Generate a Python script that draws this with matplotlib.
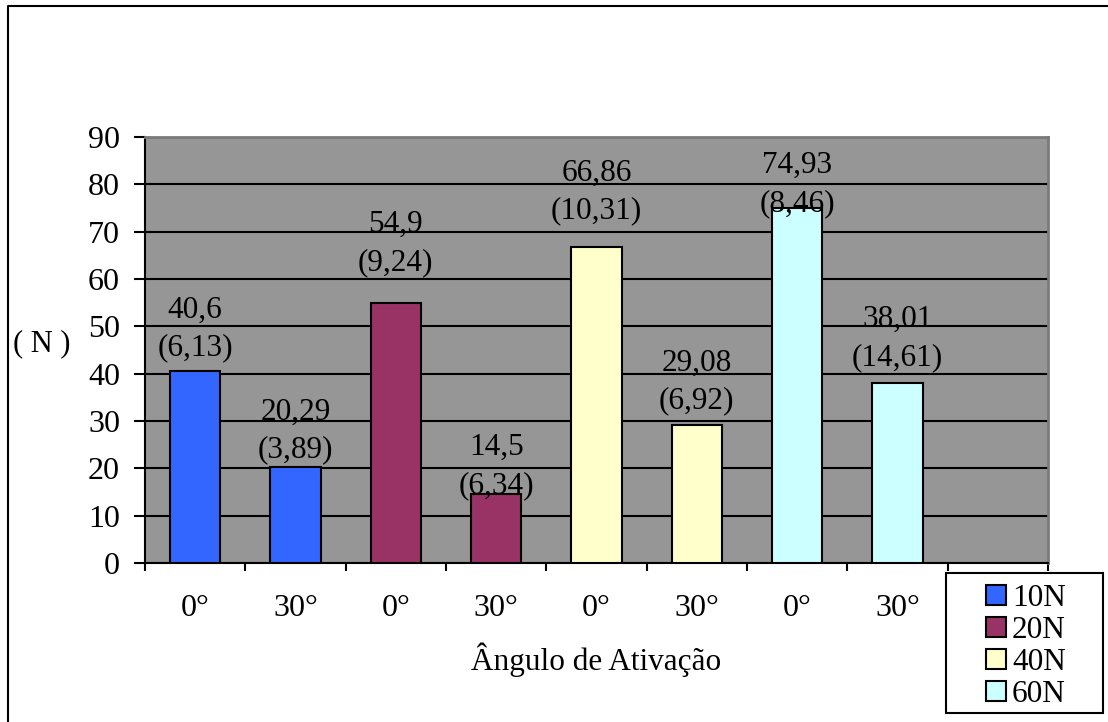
import matplotlib
matplotlib.use("Agg")
import matplotlib.pyplot as plt
from matplotlib.lines import Line2D
from matplotlib.patches import Rectangle

# Force (N) per activation angle and load level
categories = ["0°", "30°", "0°", "30°", "0°", "30°", "0°", "30°"]
series_names = ["10N", "20N", "40N", "60N"]
series_colors = ["#3366FF", "#993366", "#FFFFCC", "#CCFFFF"]
means = [40.6, 20.29, 54.9, 14.5, 66.86, 29.08, 74.93, 38.01]
std_devs = [6.13, 3.89, 9.24, 6.34, 10.31, 6.92, 8.46, 14.61]
y_ticks = [0, 10, 20, 30, 40, 50, 60, 70, 80, 90]

# vertical lift of each value label above its bar (points)
label_lift_pt = [6, 2, 19, -4, 15, 7, -7, 8]

plt.rcParams["font.family"] = ["Liberation Serif", "DejaVu Serif"]

W, H = 1108, 722
fig = plt.figure(figsize=(W / 100, H / 100), dpi=100)
fig.patch.set_facecolor("white")


def fx(px):
    return px / W


def fy(py):
    return 1 - py / H


# outer chart frame
fig.add_artist(Line2D([fx(8), fx(8), 1.0], [0.0, fy(6), fy(6)],
                      transform=fig.transFigure, color="black", lw=1.5))

ax = fig.add_axes([fx(145), fy(563), (1048 - 145) / W, (563 - 137) / H])
ax.set_facecolor("#969696")

x = list(range(len(categories)))
for i, (name, color) in enumerate(zip(series_names, series_colors)):
    xs = x[2 * i:2 * i + 2]
    ys = means[2 * i:2 * i + 2]
    ax.bar(xs, ys, width=0.5, color=color, edgecolor="black", linewidth=1.5,
           zorder=3, label=name)

for xi, m, sd, lift in zip(x, means, std_devs, label_lift_pt):
    txt = f"{m:g}".replace(".", ",") + "\n(" + f"{sd:g}".replace(".", ",") + ")"
    ax.annotate(txt, (xi, m), xytext=(0, lift), textcoords="offset points",
                ha="center", va="bottom", fontsize=22.5, linespacing=1.4,
                zorder=4, annotation_clip=False)

ax.set_xlim(-0.5, 8.5)
ax.set_ylim(0, 90)
ax.set_yticks(y_ticks)
ax.yaxis.grid(True, color="black", lw=1.5, zorder=1)
ax.set_axisbelow(True)

# boundary ticks between categories, labels centred on the bars
ax.set_xticks([v - 0.5 for v in range(10)])
ax.set_xticklabels([])
ax.set_xticks(x, minor=True)
ax.set_xticklabels(categories, minor=True, fontsize=23)
ax.tick_params(axis="x", which="major", direction="out", length=6, width=1.5)
ax.tick_params(axis="x", which="minor", length=0, pad=22)
ax.tick_params(axis="y", direction="out", length=8, width=1.5, pad=10,
               labelsize=23)

for side in ["left", "bottom"]:
    ax.spines[side].set_color("black")
    ax.spines[side].set_linewidth(1.5)
for side in ["top", "right"]:
    ax.spines[side].set_color("#7a7a7a")
    ax.spines[side].set_linewidth(2)

fig.text(fx(42), fy(344), "( N )", ha="center", va="center", fontsize=22)
fig.text(fx(596), fy(670), "Ângulo de Ativação", ha="center",
         va="baseline", fontsize=22.5)

# legend box with colour swatches
fig.add_artist(Rectangle((fx(946), fy(713)), (1103 - 946) / W, (713 - 573) / H,
                         transform=fig.transFigure, facecolor="white",
                         edgecolor="black", lw=1.5))
for k, (name, color) in enumerate(zip(series_names, series_colors)):
    top = 585 + 32 * k
    fig.add_artist(Rectangle((fx(986), fy(top + 20)), 20 / W, 20 / H,
                             transform=fig.transFigure, facecolor=color,
                             edgecolor="black", lw=1.5))
    fig.text(fx(1012), fy(top + 10), name, ha="left", va="center_baseline",
             fontsize=22.5)

fig.savefig("out.png", dpi=100)
